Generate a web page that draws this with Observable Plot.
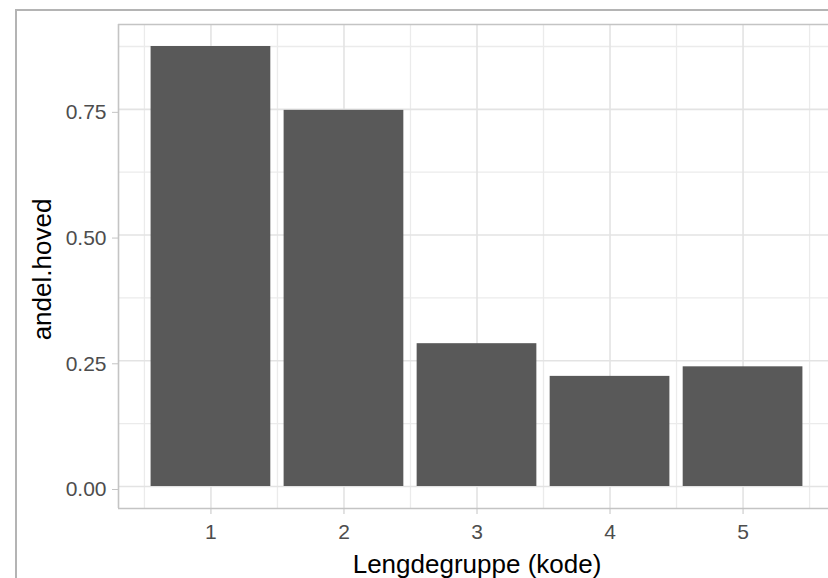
<!DOCTYPE html>
<html>
<head>
<meta charset="utf-8">
<script src="https://cdn.jsdelivr.net/npm/d3@7"></script>
<script src="https://cdn.jsdelivr.net/npm/@observablehq/plot@0.6"></script>
<style>
  html, body { margin: 0; padding: 0; background: #fff; }
  #wrap { position: relative; width: 828px; height: 578px; overflow: hidden; font-family: "Liberation Sans", Arial, sans-serif; }
  #outer { position: absolute; left: 15px; top: 9px; right: -5px; bottom: -5px; border-top: 2px solid #b4b4b4; border-left: 2px solid #b4b4b4; }
  #chart { position: absolute; left: 0; top: 0; }
</style>
</head>
<body>
<div id="wrap"><div id="outer"></div><div id="chart"></div></div>
<script>
const categories = [1, 2, 3, 4, 5];
const values = [0.875, 0.748, 0.284, 0.219, 0.238];
const yTicks = [0, 0.25, 0.5, 0.75];
const yTickLabels = ["0.00", "0.25", "0.50", "0.75"];
const yMinor = [0.125, 0.375, 0.625, 0.875];
const xMinor = [0.5, 1.5, 2.5, 3.5, 4.5, 5.5];
const xTitle = "Lengdegruppe (kode)";
const yTitle = "andel.hoved";

const xLim = [0.305, 5.695];
const yLim = [-0.04375, 0.91875];
const barWidth = 0.9;

const data = categories.map((k, i) => ({k, v: values[i]}));

const chart = Plot.plot({
  width: 828,
  height: 578,
  marginTop: 24,
  marginBottom: 70,
  marginLeft: 118,
  marginRight: 0,
  style: {fontFamily: '"Liberation Sans", Arial, sans-serif', background: "transparent", overflow: "visible"},
  x: {type: "linear", domain: xLim, range: [118, 835]},
  y: {domain: yLim},
  marks: [
    Plot.ruleX(xMinor, {stroke: "#ebebeb", strokeWidth: 1.3}),
    Plot.ruleY(yMinor, {stroke: "#ebebeb", strokeWidth: 1.3}),
    Plot.ruleX(categories, {stroke: "#e3e3e3", strokeWidth: 1.6}),
    Plot.ruleY(yTicks, {stroke: "#e3e3e3", strokeWidth: 1.6}),
    Plot.rectY(data, {x1: d => d.k - barWidth / 2, x2: d => d.k + barWidth / 2, y1: 0, y2: "v", fill: "#595959"}),
    Plot.ruleX([xLim[0]], {stroke: "#c4c4c4", strokeWidth: 1.6}),
    Plot.ruleY(yLim, {stroke: "#c4c4c4", strokeWidth: 1.6}),
    Plot.axisY(yTicks, {tickSize: 6, tickPadding: 6, stroke: "#c4c4c4", fill: "#4d4d4d", fontSize: 21, dy: 3,
      tickFormat: (d, i) => yTickLabels[i], label: null}),
    Plot.axisX(categories, {tickSize: 6, tickPadding: 10, stroke: "#c4c4c4", fill: "#4d4d4d", fontSize: 21,
      tickFormat: d => String(d), label: null}),
    Plot.text([xTitle], {frameAnchor: "bottom", textAnchor: "middle", dx: 3.5, dy: 64, lineAnchor: "bottom", fontSize: 26, fill: "#000"}),
    Plot.text([yTitle], {frameAnchor: "left", textAnchor: "middle", rotate: -90, dx: -68, dy: 3, lineAnchor: "bottom", fontSize: 26, fill: "#000"})
  ]
});
document.getElementById("chart").appendChild(chart);
</script>
</body>
</html>
